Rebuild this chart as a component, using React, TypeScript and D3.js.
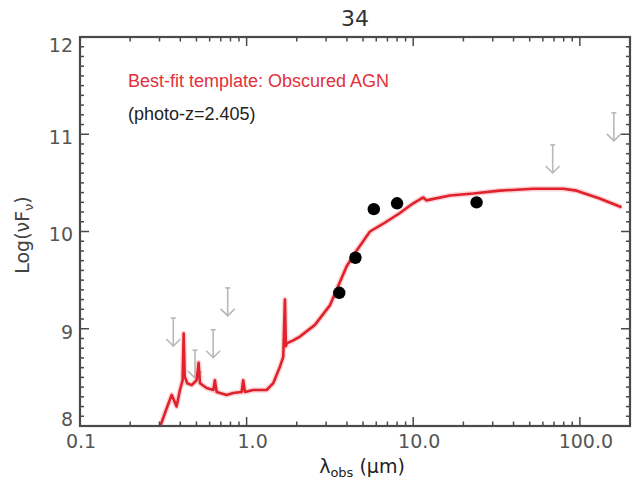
import React from "react";
import * as d3 from "d3";

// ---- data ----
const templateWave = [0.29, 0.302, 0.331, 0.355, 0.38, 0.398, 0.413, 0.419, 0.425, 0.44, 0.468, 0.501, 0.515, 0.525, 0.575, 0.631, 0.645, 0.661, 0.759, 0.831, 0.933, 0.954, 0.977, 1.096, 1.318, 1.445, 1.585, 1.659, 1.698, 1.721, 1.738, 1.905, 2.09, 2.57, 3.16, 3.98, 4.47, 5.5, 6.61, 8.32, 10.0, 11.5, 12.0, 16.6, 22.9, 33.1, 52.5, 79.4, 95.5, 131.5, 178];
const templateLogFlux = [7.88, 7.99, 8.18, 8.32, 8.2, 8.37, 8.47, 8.95, 8.51, 8.44, 8.42, 8.47, 8.65, 8.44, 8.39, 8.37, 8.47, 8.35, 8.32, 8.34, 8.35, 8.47, 8.35, 8.37, 8.37, 8.44, 8.61, 8.71, 9.3, 8.82, 8.85, 8.88, 8.92, 9.04, 9.24, 9.64, 9.78, 10.0, 10.08, 10.19, 10.29, 10.35, 10.32, 10.37, 10.39, 10.42, 10.44, 10.44, 10.42, 10.34, 10.25];

const photWave = [3.6, 4.5, 5.8, 8.0, 24];
const photLogFlux = [9.37, 9.73, 10.23, 10.29, 10.3];

const limitWave = [0.363, 0.49, 0.63, 0.77, 68.7, 160];
const limitLogFlux = [9.11, 8.78, 8.99, 9.42, 10.89, 11.22];

const xMajorTicks = [0.1, 1, 10, 100];
const xTickLabels = ["0.1", "1.0", "10.0", "100.0"];
const yMajorTicks = [8, 9, 10, 11, 12];
const yTickLabels = ["8", "9", "10", "11", "12"];

const titleText = "34";
const legendLine1 = "Best-fit template: Obscured AGN";
const legendLine2 = "(photo-z=2.405)";

export default function App() {
  const W = 641, H = 491;
  const left = 80, right = 630, top = 37, bottom = 426;
  const x = d3.scaleLog().domain([0.1, 200]).range([left, right]);
  const y = d3.scaleLinear().domain([8, 12]).range([bottom, top]);

  const line = d3
    .line<number>()
    .x((_, i) => x(templateWave[i]))
    .y((d) => y(d));

  const xMinor: number[] = [];
  [0.1, 1, 10, 100].forEach((dec) => {
    for (let k = 2; k <= 9; k++) {
      const v = dec * k;
      if (v < 200) xMinor.push(v);
    }
  });
  const yMinor: number[] = d3.range(80, 121).map((v) => v / 10).filter((v) => !yMajorTicks.includes(v));

  const axisColor = "#4a4a4a";
  const font = "'Liberation Sans', Arial, sans-serif";
  const wide = "'DejaVu Sans', sans-serif";
  const arrowLen = 28;
  const path = line(templateLogFlux) || "";

  return (
    <svg width={W} height={H} style={{ position: "absolute", left: 0, top: 0, background: "#fff" }} fontFamily={font}>
      <defs>
        <clipPath id="plotClip">
          <rect x={left} y={top} width={right - left} height={bottom - top} />
        </clipPath>
      </defs>

      {/* upper-limit arrows */}
      <g stroke="#b8b8b8" strokeWidth={1.6} fill="none">
        {limitWave.map((w, i) => {
          const cx = x(w);
          const y0 = y(limitLogFlux[i]);
          const y1 = y0 + arrowLen;
          return (
            <g key={i}>
              <line x1={cx - 2.5} x2={cx + 2.5} y1={y0} y2={y0} />
              <line x1={cx} x2={cx} y1={y0} y2={y1} />
              <path d={`M${cx - 7},${y1 - 7} L${cx},${y1} L${cx + 7},${y1 - 7}`} />
            </g>
          );
        })}
      </g>

      {/* template */}
      <g clipPath="url(#plotClip)">
        <path d={path} fill="none" stroke="#f3a0a4" strokeOpacity={0.45} strokeWidth={5.5} strokeLinejoin="round" />
        <path d={path} fill="none" stroke="#e0222c" strokeWidth={2.6} strokeLinejoin="round" />
      </g>

      {/* photometry */}
      {photWave.map((w, i) => (
        <circle key={i} cx={x(w)} cy={y(photLogFlux[i])} r={6.2} fill="#000" />
      ))}

      {/* ticks */}
      <g stroke={axisColor} strokeWidth={1.5}>
        {xMajorTicks.map((t, i) => (
          <g key={"xM" + i}>
            <line x1={x(t)} x2={x(t)} y1={bottom} y2={bottom - 9} />
            <line x1={x(t)} x2={x(t)} y1={top} y2={top + 9} />
          </g>
        ))}
        {xMinor.map((t, i) => (
          <g key={"xm" + i}>
            <line x1={x(t)} x2={x(t)} y1={bottom} y2={bottom - 4.5} />
            <line x1={x(t)} x2={x(t)} y1={top} y2={top + 4.5} />
          </g>
        ))}
        {yMajorTicks.map((t, i) => (
          <g key={"yM" + i}>
            <line x1={left} x2={left + 9} y1={y(t)} y2={y(t)} />
            <line x1={right} x2={right - 9} y1={y(t)} y2={y(t)} />
          </g>
        ))}
        {yMinor.map((t, i) => (
          <g key={"ym" + i}>
            <line x1={left} x2={left + 4} y1={y(t)} y2={y(t)} />
            <line x1={right} x2={right - 4} y1={y(t)} y2={y(t)} />
          </g>
        ))}
      </g>

      {/* frame */}
      <rect x={left} y={top} width={right - left} height={bottom - top} fill="none" stroke={axisColor} strokeWidth={2.2} />

      {/* tick labels */}
      <g fill="#555" fontSize={19} fontFamily={wide}>
        {xMajorTicks.map((t, i) => (
          <text key={"xl" + i} x={x(t) + (i === 0 ? 1 : 6)} y={448} textAnchor="middle">
            {xTickLabels[i]}
          </text>
        ))}
        {yMajorTicks.map((t, i) => (
          <text
            key={"yl" + i}
            x={73}
            y={Math.min(Math.max(y(t) + 3, top + 8), bottom - 7)}
            dy="0.36em"
            textAnchor="end"
          >
            {yTickLabels[i]}
          </text>
        ))}
      </g>

      {/* title */}
      <text x={355} y={26} textAnchor="middle" fontSize={22} fill="#333" fontFamily={wide}>
        {titleText}
      </text>

      {/* legend */}
      <text x={128} y={87} fontSize={18} fill="#e3303a">
        {legendLine1}
      </text>
      <text x={128} y={120} fontSize={18} fill="#222">
        {legendLine2}
      </text>

      {/* axis titles */}
      <text x={362} y={473} textAnchor="middle" fontSize={19} fill="#222" fontFamily={wide}>
        λ<tspan fontSize={13} dy={4}>obs</tspan>
        <tspan dy={-4}> (μm)</tspan>
      </text>
      <text transform="translate(29,235) rotate(-90)" textAnchor="middle" fontSize={19} fill="#444" fontFamily={wide}>
        Log(νF<tspan fontSize={13} dy={4}>ν</tspan>
        <tspan dy={-4}>)</tspan>
      </text>
    </svg>
  );
}
